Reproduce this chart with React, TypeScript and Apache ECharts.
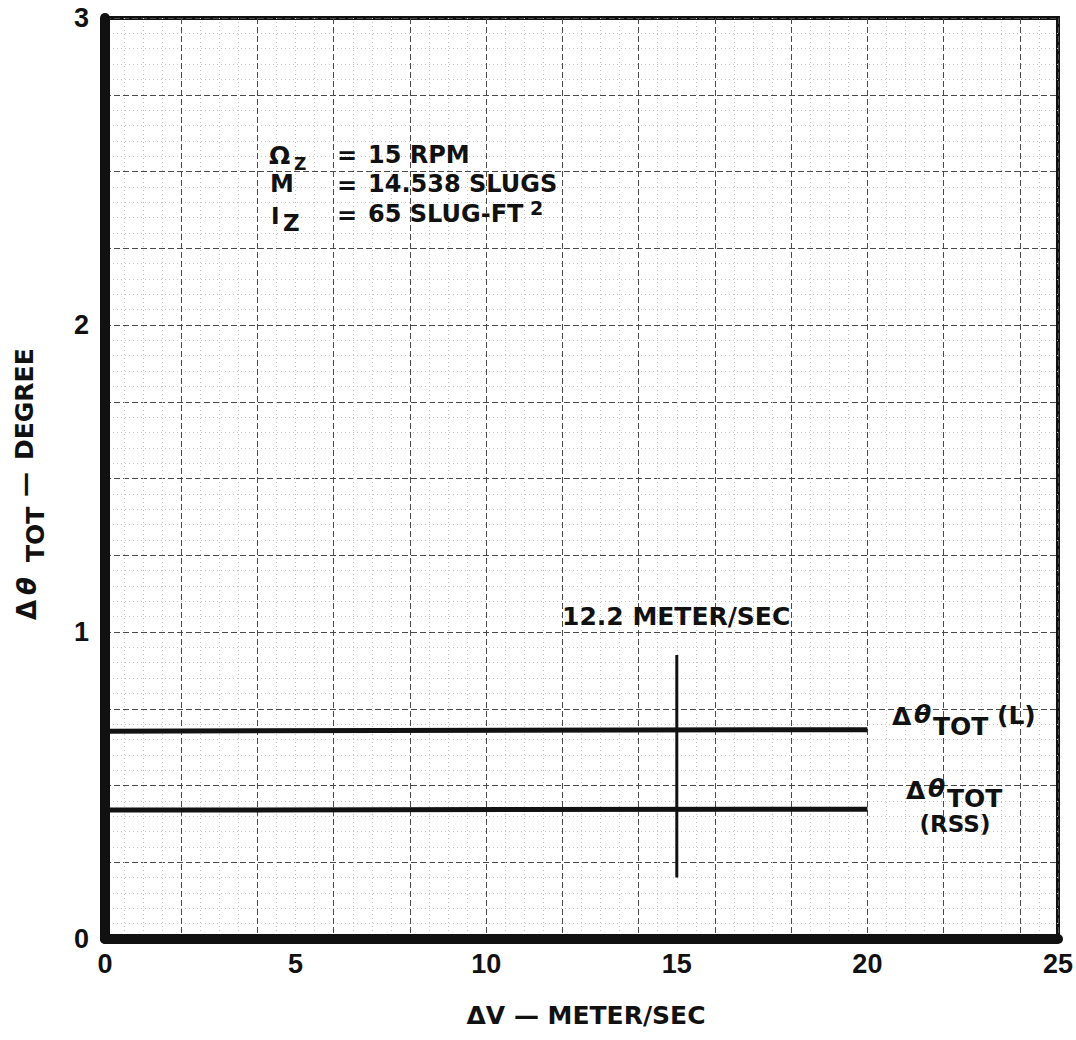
import React, { useEffect, useRef } from "react";
import * as echarts from "echarts";

// ---- data ----
const xTicks = [0, 5, 10, 15, 20, 25];
const yTicks = [0, 1, 2, 3];
const xGridStep = 2;
const yGridStep = 0.25;
const lineL = [
  [0, 0.677],
  [20, 0.682],
];
const lineRSS = [
  [0, 0.42],
  [20, 0.423],
];
const marker12 = [
  [15, 0.2],
  [15, 0.925],
];

const FONT = "'DejaVu Sans', sans-serif";
const INK = "#111";

function txt(text: string, x: number, y: number, size: number, opts: any = {}) {
  const font = `${opts.italic ? "italic " : ""}${opts.normal ? "" : "bold "}${size}px ${opts.family || FONT}`;
  const align = opts.align || "left";
  return {
    type: "text",
    x,
    y,
    z: 20,
    style: {
      text,
      fill: INK,
      font,
      align,
      verticalAlign: "middle",
      textAlign: align,
      textVerticalAlign: "middle",
    },
  };
}

export default function App() {
  const ref = useRef<HTMLDivElement>(null);
  useEffect(() => {
    if (!ref.current) return;
    const chart = echarts.init(ref.current, null, { renderer: "svg" });
    const xMin = xTicks[0];
    const xMax = xTicks[xTicks.length - 1];
    const yMin = yTicks[0];
    const yMax = yTicks[yTicks.length - 1];
    const majorGrid = { show: true, lineStyle: { color: "#4a4a4a", width: 1, type: [6, 3] } };
    const minorGrid = { show: true, lineStyle: { color: "#c4c4c4", width: 1, type: [1, 3] } };
    const tickLabel = {
      color: INK,
      fontFamily: "Liberation Sans",
      fontWeight: "bold",
      fontSize: 27,
    };
    chart.setOption({
      animation: false,
      backgroundColor: "#fff",
      grid: {
        left: 105,
        right: 16,
        top: 18,
        bottom: 101,
        show: true,
        borderColor: INK,
        borderWidth: 4,
        backgroundColor: "transparent",
      },
      xAxis: [
        {
          type: "value",
          min: xMin,
          max: xMax,
          interval: xTicks[1] - xTicks[0],
          z: 5,
          axisLine: { show: true, onZero: false, lineStyle: { color: INK, width: 10 } },
          axisTick: { show: false },
          splitLine: { show: false },
          axisLabel: { ...tickLabel, margin: 11 },
        },
        {
          type: "value",
          min: xMin,
          max: xMax,
          interval: xGridStep,
          position: "bottom",
          axisLine: { show: false },
          axisTick: { show: false },
          axisLabel: { show: false },
          splitLine: majorGrid,
          minorTick: { show: false, splitNumber: 4 },
          minorSplitLine: minorGrid,
        },
      ],
      yAxis: [
        {
          type: "value",
          min: yMin,
          max: yMax,
          interval: yTicks[1] - yTicks[0],
          z: 5,
          axisLine: { show: true, onZero: false, lineStyle: { color: INK, width: 10 } },
          axisTick: { show: false },
          splitLine: { show: false },
          axisLabel: { ...tickLabel, margin: 16 },
        },
        {
          type: "value",
          min: yMin,
          max: yMax,
          interval: yGridStep,
          position: "left",
          axisLine: { show: false },
          axisTick: { show: false },
          axisLabel: { show: false },
          splitLine: majorGrid,
          minorTick: { show: false, splitNumber: 5 },
          minorSplitLine: minorGrid,
        },
      ],
      series: [
        {
          name: "Δθ TOT (L)",
          type: "line",
          xAxisIndex: 0,
          yAxisIndex: 0,
          data: lineL,
          showSymbol: false,
          z: 4,
          lineStyle: { color: INK, width: 5 },
        },
        {
          name: "Δθ TOT (RSS)",
          type: "line",
          xAxisIndex: 0,
          yAxisIndex: 0,
          data: lineRSS,
          showSymbol: false,
          z: 4,
          lineStyle: { color: INK, width: 5 },
        },
        {
          name: "12.2 METER/SEC",
          type: "line",
          xAxisIndex: 0,
          yAxisIndex: 0,
          data: marker12,
          showSymbol: false,
          z: 4,
          lineStyle: { color: INK, width: 3 },
        },
      ],
      graphic: [
        // y axis title (rotated)
        {
          type: "group",
          x: 0,
          y: 620,
          rotation: Math.PI / 2,
          children: [
            txt("Δ", 0, 27, 26),
            txt("θ", 25, 27, 26, { italic: true }),
            txt("TOT", 58, 35, 25),
            txt("—", 123, 24, 25),
            txt("DEGREE", 160, 24, 25),
          ],
        },
        // x axis title
        txt("ΔV — METER/SEC", 586, 1015, 25, { align: "center" }),
        // parameter block
        txt("Ω", 269, 155, 25),
        txt("Z", 294, 164, 17),
        txt("=", 337, 156, 24),
        txt("15 RPM", 368, 155, 24),
        txt("M", 270, 184, 24),
        txt("=", 337, 186, 24),
        txt("14.538 SLUGS", 368, 184, 24),
        txt("I", 271, 216, 23),
        txt("Z", 283, 223, 23),
        txt("=", 337, 216, 24),
        txt("65 SLUG-FT", 368, 214, 24),
        txt("2", 530, 208, 19),
        // marker label
        txt("12.2 METER/SEC", 562, 616, 25),
        // series labels
        txt("Δ", 892, 716, 25),
        txt("θ", 914, 714, 25, { italic: true }),
        txt("TOT", 933, 726, 25),
        txt("(L)", 997, 715, 25),
        txt("Δ", 906, 790, 25),
        txt("θ", 928, 788, 25, { italic: true }),
        txt("TOT", 947, 798, 25),
        txt("(RSS)", 955, 824, 23, { align: "center" }),
      ],
    });
    return () => chart.dispose();
  }, []);
  return (
    <div
      ref={ref}
      style={{ position: "fixed", left: 0, top: 0, width: 1076, height: 1040, background: "#fff" }}
    />
  );
}
